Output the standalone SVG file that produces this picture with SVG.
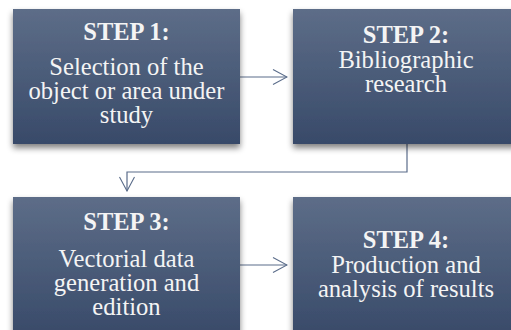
<svg xmlns="http://www.w3.org/2000/svg" width="511" height="330" viewBox="0 0 511 330">
  <defs>
    <linearGradient id="boxGrad" x1="0" y1="0" x2="0" y2="1">
      <stop offset="0" stop-color="#5d6d88"/>
      <stop offset="1" stop-color="#384a69"/>
    </linearGradient>
    <filter id="shadow" x="-10%" y="-10%" width="120%" height="130%">
      <feGaussianBlur in="SourceAlpha" stdDeviation="3"/>
      <feOffset dx="0" dy="4" result="b"/>
      <feComponentTransfer><feFuncA type="linear" slope="0.5"/></feComponentTransfer>
      <feMerge><feMergeNode/><feMergeNode in="SourceGraphic"/></feMerge>
    </filter>
    <marker id="arrow" viewBox="0 0 16 16" refX="15" refY="8" markerWidth="16" markerHeight="16" markerUnits="userSpaceOnUse" orient="auto">
      <path d="M1,0.5 L15,8 L1,15.5" fill="none" stroke="#5a6c8a" stroke-width="1.1"/>
    </marker>
  </defs>
  <style>
    .box { fill: url(#boxGrad); filter: url(#shadow); }
    .title { font-family: "Liberation Serif", "Times New Roman", serif; font-weight: bold; font-size: 24.5px; fill: #f4f4f4; text-anchor: middle; }
    .body { font-family: "Liberation Serif", "Times New Roman", serif; font-size: 24.6px; fill: #f4f4f4; text-anchor: middle; }
    .conn { fill: none; stroke: #5a6c8a; stroke-width: 1.2; marker-end: url(#arrow); }
  </style>
  <rect width="511" height="330" fill="#ffffff"/>

  <g id="connectors">
    <path class="conn" d="M240,77 H287"/>
    <path class="conn" d="M407,144 V172 H127 V191"/>
    <path class="conn" d="M240,265 H287"/>
  </g>

  <g id="step1">
    <rect class="box" x="13" y="9" width="227" height="135"/>
    <text class="title" x="126.5" y="40">STEP 1:</text>
    <text class="body" x="126.5" y="75">Selection of the</text>
    <text class="body" x="126.5" y="99">object or area under</text>
    <text class="body" x="126.5" y="123">study</text>
  </g>

  <g id="step2">
    <rect class="box" x="293" y="9" width="227" height="135"/>
    <text class="title" x="406" y="43">STEP 2:</text>
    <text class="body" x="406" y="68">Bibliographic</text>
    <text class="body" x="406" y="92">research</text>
  </g>

  <g id="step3">
    <rect class="box" x="13" y="197" width="227" height="140"/>
    <text class="title" x="126.5" y="230">STEP 3:</text>
    <text class="body" x="126.5" y="267">Vectorial data</text>
    <text class="body" x="126.5" y="291">generation and</text>
    <text class="body" x="126.5" y="315">edition</text>
  </g>

  <g id="step4">
    <rect class="box" x="293" y="197" width="227" height="140"/>
    <text class="title" x="406" y="248">STEP 4:</text>
    <text class="body" x="406" y="273">Production and</text>
    <text class="body" x="406" y="297">analysis of results</text>
  </g>
</svg>
